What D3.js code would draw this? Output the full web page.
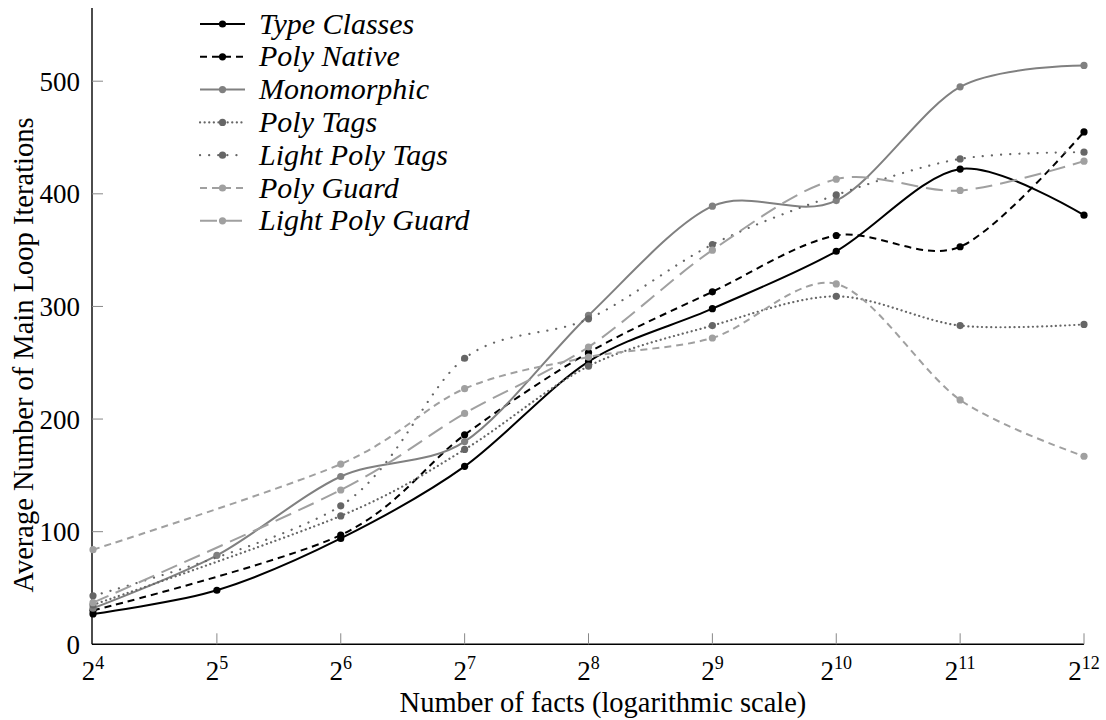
<!DOCTYPE html>
<html><head><meta charset="utf-8">
<script src="https://cdn.jsdelivr.net/npm/d3@7"></script>
<style>body{margin:0;background:#fff}svg{display:block}text{font-family:"Liberation Serif","DejaVu Serif",serif;fill:#000}</style>
</head><body><svg id="c" width="1106" height="720"></svg>
<script>
const facts = [16,32,64,128,256,512,1024,2048,4096];
const xTickExps = [4,5,6,7,8,9,10,11,12];
const yTicks = [0,100,200,300,400,500];
const seriesNames = ["Type Classes","Poly Native","Monomorphic","Poly Tags","Light Poly Tags","Poly Guard","Light Poly Guard"];
const typeClasses    = [27,48,94,158,251,298,349,422,381];
const polyNative     = [30,null,97,186,259,313,363,353,455];
const monomorphic    = [32,79,149,180,292,389,394,495,514];
const polyTags       = [35,null,114,173,247,283,309,283,284];
const lightPolyTags  = [43,null,123,254,289,355,399,431,437];
const polyGuard      = [84,null,160,227,255,272,320,217,167];
const lightPolyGuard = [37,null,137,205,264,350,413,403,429];
const seriesValues = [typeClasses,polyNative,monomorphic,polyTags,lightPolyTags,polyGuard,lightPolyGuard];

const styles = [
  {color:"#000", dash:null, w:2},
  {color:"#000", dash:"7,5", w:2},
  {color:"#808080", dash:null, w:2},
  {color:"#666", dash:"0.1,4.5", w:2.2, cap:"round"},
  {color:"#666", dash:"0.1,9", w:2.2, cap:"round"},
  {color:"#a0a0a0", dash:"7,5", w:2},
  {color:"#a0a0a0", dash:"17,8", w:2}
];

const svg = d3.select("#c");
const x = d3.scaleLog().base(2).domain([16,4096]).range([93,1084]);
const y = d3.scaleLinear().domain([0,565]).range([644.3,8]);

// axes
const xAxis = d3.axisBottom(x).tickValues(facts).tickSize(0).tickFormat("");
const gx = svg.append("g").attr("transform","translate(0,644.3)").call(xAxis);
gx.select(".domain").attr("stroke","#000").attr("stroke-width",1.4).attr("d","M92,0H1084");
facts.forEach((f,i)=>{
  if(i>0) gx.append("line").attr("x1",x(f)).attr("x2",x(f)).attr("y1",0).attr("y2",-11).attr("stroke","#888").attr("stroke-width",1);
  const t = gx.append("text").attr("x",x(f)).attr("y",36).attr("text-anchor","middle").attr("font-size",27);
  t.append("tspan").text("2");
  t.append("tspan").attr("dy",-11).attr("font-size",18).text(xTickExps[i]);
});
const yAxis = d3.axisLeft(y).tickValues(yTicks).tickSize(0).tickFormat("");
const gy = svg.append("g").attr("transform","translate(92,0)").call(yAxis);
gy.select(".domain").attr("stroke","#000").attr("stroke-width",1.4).attr("d","M0,8V644.3");
yTicks.forEach(v=>{
  if(v>0) gy.append("line").attr("x1",0).attr("x2",11).attr("y1",y(v)).attr("y2",y(v)).attr("stroke","#888").attr("stroke-width",1);
  gy.append("text").attr("x",-12).attr("y",y(v)).attr("dy","0.35em").attr("text-anchor","end").attr("font-size",27).text(v);
});

svg.append("text").attr("x",603).attr("y",712).attr("text-anchor","middle").attr("font-size",28.5).text("Number of facts (logarithmic scale)");
svg.append("text").attr("transform","translate(33,355) rotate(-90)").attr("text-anchor","middle").attr("font-size",28.5).text("Average Number of Main Loop Iterations");

// lines
const line = d3.line().defined(d=>d.v!=null).x(d=>x(d.f)).y(d=>y(d.v)).curve(d3.curveCardinal.tension(0.08));
seriesValues.forEach((vals,si)=>{
  const st = styles[si];
  const pts = facts.map((f,i)=>({f, v: vals[i]})).filter(d=>d.v!=null);
  svg.append("path").datum(pts).attr("d",line).attr("fill","none").attr("stroke",st.color)
    .attr("stroke-width",st.w).attr("stroke-dasharray",st.dash).attr("stroke-linecap",st.cap||"butt");
  svg.append("g").selectAll("circle").data(pts).join("circle")
    .attr("cx",d=>x(d.f)).attr("cy",d=>y(d.v)).attr("r",3.6).attr("fill",st.color);
});

// legend
const lg = svg.append("g");
seriesNames.forEach((n,i)=>{
  const yy = 24 + i*32.8;
  const st = styles[i];
  lg.append("line").attr("x1",200).attr("x2",245).attr("y1",yy).attr("y2",yy).attr("stroke",st.color)
    .attr("stroke-width",st.w).attr("stroke-dasharray",st.dash).attr("stroke-linecap",st.cap||"butt");
  lg.append("circle").attr("cx",222.5).attr("cy",yy).attr("r",3.6).attr("fill",st.color);
  lg.append("text").attr("x",259).attr("y",yy).attr("dy","0.32em").attr("font-size",30).attr("font-style","italic").text(n);
});
</script></body></html>
